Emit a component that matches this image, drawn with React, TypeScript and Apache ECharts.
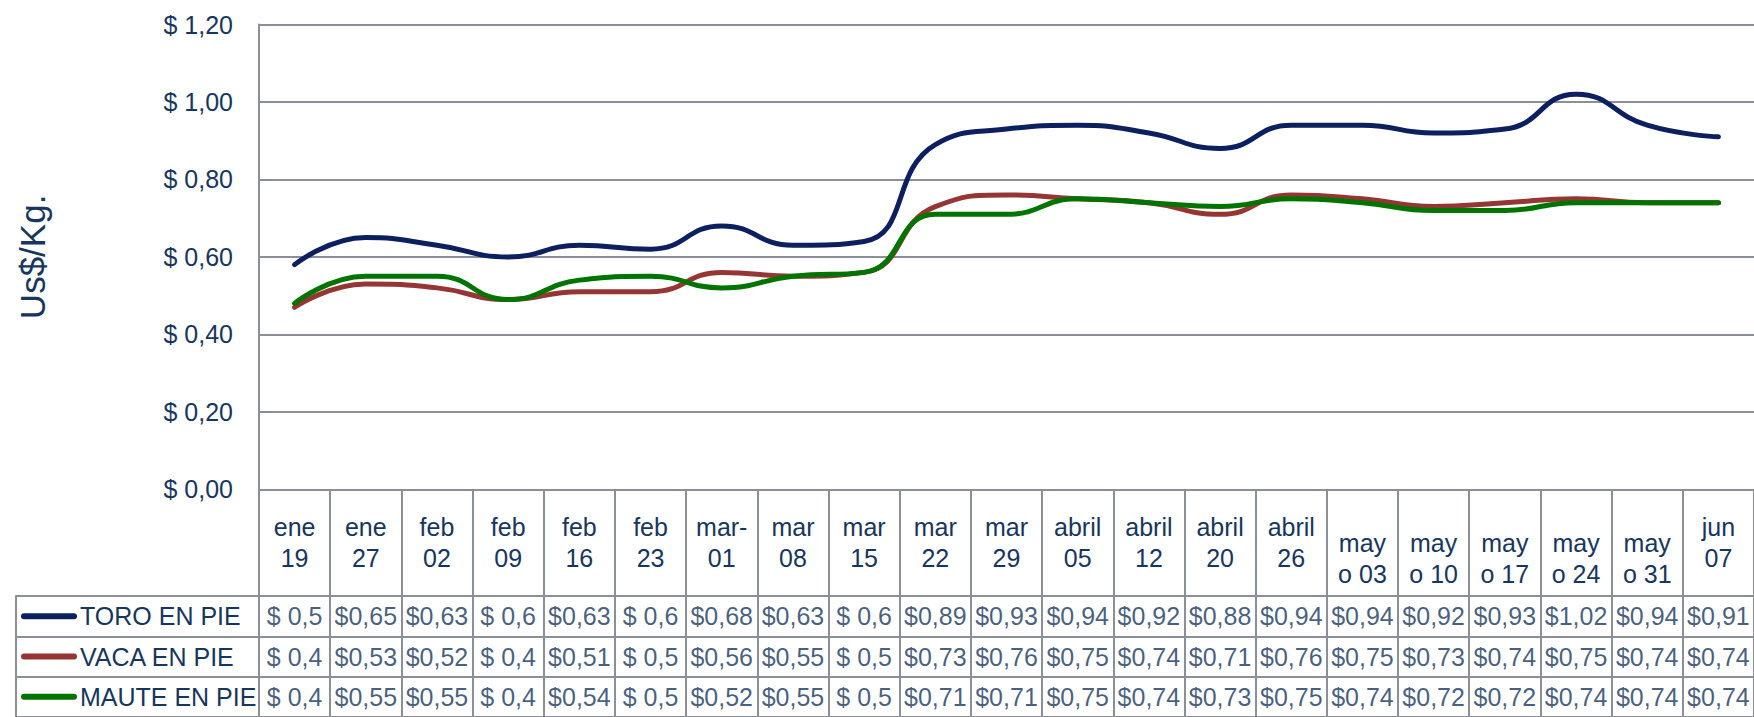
import React, { useEffect, useRef } from "react";
import * as echarts from "echarts";

const categories = [
  "ene\n19", "ene\n27", "feb\n02", "feb\n09", "feb\n16", "feb\n23", "mar-\n01",
  "mar\n08", "mar\n15", "mar\n22", "mar\n29", "abril\n05", "abril\n12", "abril\n20",
  "abril\n26", "may\no 03", "may\no 10", "may\no 17", "may\no 24", "may\no 31", "jun\n07",
];

const seriesNames = ["TORO EN PIE", "VACA EN PIE", "MAUTE EN PIE"];

const toroValues = [0.58, 0.65, 0.63, 0.60, 0.63, 0.62, 0.68, 0.63, 0.64, 0.89, 0.93, 0.94, 0.92, 0.88, 0.94, 0.94, 0.92, 0.93, 1.02, 0.94, 0.91];
const vacaValues = [0.47, 0.53, 0.52, 0.49, 0.51, 0.51, 0.56, 0.55, 0.56, 0.73, 0.76, 0.75, 0.74, 0.71, 0.76, 0.75, 0.73, 0.74, 0.75, 0.74, 0.74];
const mauteValues = [0.48, 0.55, 0.55, 0.49, 0.54, 0.55, 0.52, 0.55, 0.56, 0.71, 0.71, 0.75, 0.74, 0.73, 0.75, 0.74, 0.72, 0.72, 0.74, 0.74, 0.74];

const toroTable = ["$ 0,5", "$0,65", "$0,63", "$ 0,6", "$0,63", "$ 0,6", "$0,68", "$0,63", "$ 0,6", "$0,89", "$0,93", "$0,94", "$0,92", "$0,88", "$0,94", "$0,94", "$0,92", "$0,93", "$1,02", "$0,94", "$0,91"];
const vacaTable = ["$ 0,4", "$0,53", "$0,52", "$ 0,4", "$0,51", "$ 0,5", "$0,56", "$0,55", "$ 0,5", "$0,73", "$0,76", "$0,75", "$0,74", "$0,71", "$0,76", "$0,75", "$0,73", "$0,74", "$0,75", "$0,74", "$0,74"];
const mauteTable = ["$ 0,4", "$0,55", "$0,55", "$ 0,4", "$0,54", "$ 0,5", "$0,52", "$0,55", "$ 0,5", "$0,71", "$0,71", "$0,75", "$0,74", "$0,73", "$0,75", "$0,74", "$0,72", "$0,72", "$0,74", "$0,74", "$0,74"];

const Y_MIN = 0;
const Y_MAX = 1.2;
const Y_STEP = 0.2;

const FONT = "Liberation Sans";
const TEXT = "#17365D";
const GRID = "#8A8F98";
const COLORS = ["#0C1F5E", "#963634", "#007400"];

export default function App() {
  const ref = useRef<HTMLDivElement>(null);

  useEffect(() => {
    if (!ref.current) return;
    const chart = echarts.init(ref.current, undefined, { renderer: "svg" });
    const values = [toroValues, vacaValues, mauteValues];
    const tables = [toroTable, vacaTable, mauteTable];

    const cellData: any[] = [];
    tables.forEach((row, r) => row.forEach((t, i) => cellData.push([i, r, t])));

    const option: any = {
      animation: false,
      backgroundColor: "#ffffff",
      textStyle: { fontFamily: FONT },
      grid: [
        { left: 259, right: 0, top: 24.5, height: 464.8, containLabel: false },
        { left: 259, right: 0, top: 596, height: 126, containLabel: false },
      ],
      xAxis: [
        {
          type: "category",
          gridIndex: 0,
          data: categories,
          boundaryGap: true,
          axisLine: { show: true, lineStyle: { color: GRID, width: 2 } },
          axisTick: { show: true, interval: 0, length: 107, lineStyle: { color: GRID, width: 2 } },
          splitLine: { show: false },
          axisLabel: {
            interval: 0,
            margin: 53.5,
            verticalAlign: "middle",
            fontSize: 25,
            lineHeight: 31,
            color: TEXT,
            fontFamily: FONT,
            formatter: (v: string) => (v.startsWith("may") ? "\n" + v : v),
          },
        },
        {
          type: "category",
          gridIndex: 1,
          data: categories,
          position: "top",
          boundaryGap: true,
          axisLine: { show: true, lineStyle: { color: GRID, width: 2 } },
          axisTick: { show: false },
          axisLabel: { show: false },
          splitLine: { show: true, interval: 0, lineStyle: { color: GRID, width: 2 } },
        },
      ],
      yAxis: [
        {
          type: "value",
          gridIndex: 0,
          min: Y_MIN,
          max: Y_MAX,
          interval: Y_STEP,
          name: "Us$/Kg.",
          nameLocation: "middle",
          nameRotate: 90,
          nameGap: 209,
          nameTextStyle: { fontSize: 35, color: TEXT, fontFamily: FONT },
          axisLine: { show: true, lineStyle: { color: GRID, width: 2 } },
          axisTick: { show: false },
          splitLine: { show: true, lineStyle: { color: GRID, width: 2 } },
          axisLabel: {
            margin: 26,
            fontSize: 25,
            color: TEXT,
            fontFamily: FONT,
            formatter: (v: number) => "$ " + v.toFixed(2).replace(".", ","),
          },
        },
        {
          type: "category",
          gridIndex: 1,
          data: seriesNames,
          inverse: true,
          boundaryGap: true,
          axisLine: { show: true, lineStyle: { color: GRID, width: 2 } },
          axisTick: { show: true, interval: 0, length: 243, lineStyle: { color: GRID, width: 2 } },
          splitLine: { show: true, interval: 0, lineStyle: { color: GRID, width: 2 } },
          axisLabel: {
            interval: 0,
            align: "left",
            margin: 238,
            formatter: (v: string) => {
              const idx = seriesNames.indexOf(v);
              return "{s" + idx + "|}{n|" + v + "}";
            },
            rich: {
              s0: { width: 56, height: 6, backgroundColor: COLORS[0], borderRadius: 3 },
              s1: { width: 56, height: 6, backgroundColor: COLORS[1], borderRadius: 3 },
              s2: { width: 56, height: 6, backgroundColor: COLORS[2], borderRadius: 3 },
              n: { fontSize: 25, color: TEXT, fontFamily: FONT, padding: [0, 0, 0, 3] },
            },
          },
        },
        {
          type: "category",
          gridIndex: 1,
          data: seriesNames,
          inverse: true,
          position: "left",
          offset: 243,
          axisLine: { show: true, lineStyle: { color: GRID, width: 2 } },
          axisTick: { show: false },
          axisLabel: { show: false },
          splitLine: { show: false },
        },
      ],
      series: [
        ...values.map((vals, k) => ({
          name: seriesNames[k],
          type: "line",
          xAxisIndex: 0,
          yAxisIndex: 0,
          data: vals,
          smooth: 0.5,
          symbol: "none",
          lineStyle: { color: COLORS[k], width: 5, cap: "round", join: "round" },
          z: 3 + k,
        })),
        {
          type: "scatter",
          xAxisIndex: 1,
          yAxisIndex: 1,
          data: cellData,
          symbolSize: 1,
          itemStyle: { color: "rgba(0,0,0,0)" },
          silent: true,
          label: {
            show: true,
            position: "inside",
            fontSize: 25,
            color: TEXT,
            fontFamily: FONT,
            formatter: (p: any) => p.value[2],
          },
        },
      ],
    };

    chart.setOption(option);
    return () => chart.dispose();
  }, []);

  return (
    <div
      ref={ref}
      style={{ position: "fixed", left: 0, top: 0, width: 1754, height: 717 }}
    />
  );
}
